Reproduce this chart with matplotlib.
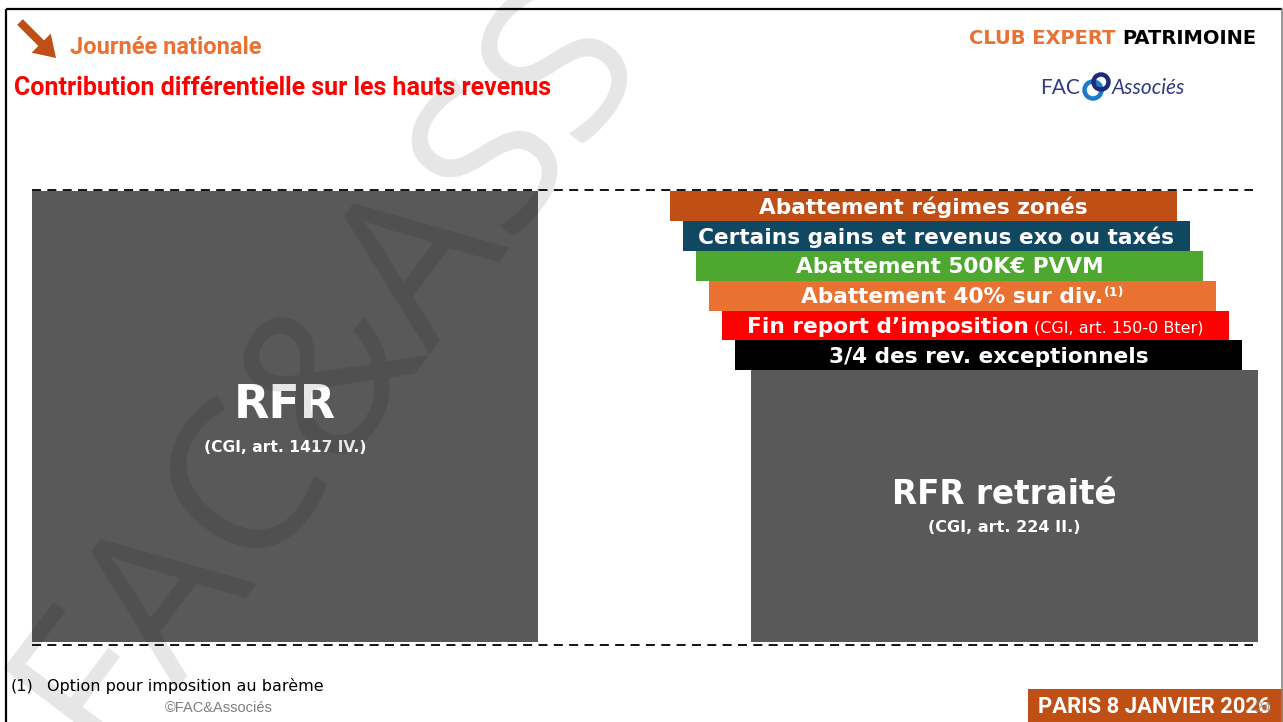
import matplotlib
matplotlib.use("Agg")
import matplotlib.pyplot as plt
from matplotlib.patches import FancyArrow, Circle
from matplotlib import font_manager as fm

# ---------------- data ----------------
rfr_label = "RFR"
rfr_ref = "(CGI, art. 1417 IV.)"
rfr_value = 100.0
retraite_label = "RFR retraité"
retraite_ref = "(CGI, art. 224 II.)"
retraite_value = 60.3
# stacked deductions, from bottom to top
deduction_labels = ["3/4 des rev. exceptionnels", "Fin report d’imposition",
                    "Abattement 40% sur div.", "Abattement 500K€ PVVM",
                    "Certains gains et revenus exo ou taxés", "Abattement régimes zonés"]
deduction_notes = ["", "(CGI, art. 150-0 Bter)", "(1)", "", "", ""]
deduction_values = [6.6, 6.6, 6.6, 6.6, 6.6, 6.7]
deduction_colors = ["#000000", "#FF0000", "#E97132", "#4EA72E", "#104862", "#C04F15"]

title_top = "Journée nationale"
title_main = "Contribution différentielle sur les hauts revenus"
club_a, club_b = "CLUB EXPERT ", "PATRIMOINE"
footnote_num = "(1)"
footnote_txt = "Option pour imposition au barème"
copyright_txt = "©FAC&Associés"
date_txt = "PARIS 8 JANVIER 2026"
page_txt = "24"
watermark_txt = "FAC&ASS"

# ---------------- fonts ----------------
available = {f.name for f in fm.fontManager.ttflist}
def pick(*names):
    for n in names:
        if n in available:
            return n
    return "DejaVu Sans"

F_BOLD = pick("DejaVu Sans")
F_NARROW = pick("Liberation Sans Narrow", "Roboto", "Liberation Sans")
F_ARIAL = pick("Liberation Sans", "DejaVu Sans")
F_LIGHT = pick("Lato", "Open Sans", "DejaVu Sans")
F_WM = pick("Open Sans", "Lato", "DejaVu Sans")

W, H, DPI = 1283, 722, 100
GREY = "#595959"
BROWN = "#C04F15"
ORANGE = "#E97132"
NAVY = "#2E3A87"

fig = plt.figure(figsize=(W / DPI, H / DPI), dpi=DPI)
fig.patch.set_facecolor("white")

ax = fig.add_axes([0, 0, 1, 1])
ax.set_xlim(0, W); ax.set_ylim(H, 0); ax.axis("off")

base_px, top_px = 642, 191
cx = fig.add_axes([0, (H - base_px) / H, 1, (base_px - top_px) / H])
cx.set_xlim(0, W); cx.set_ylim(0, rfr_value); cx.axis("off")
cx.patch.set_alpha(0)

ov = fig.add_axes([0, 0, 1, 1])
ov.set_xlim(0, W); ov.set_ylim(H, 0); ov.axis("off")
ov.patch.set_alpha(0)

def to_ov(x, v):
    return ov.transData.inverted().transform(cx.transData.transform((x, v)))

# ---------------- frame ----------------
ax.plot([5.5, 5.5], [8.5, H + 5], color="black", lw=1.6, solid_capstyle="butt")
ax.plot([5.5, 1281.5], [8.5, 8.5], color="black", lw=1.6, solid_capstyle="butt")
ax.plot([1281.5, 1281.5], [8.5, H + 5], color="#888888", lw=1.2)

# ---------------- header ----------------
ax.add_patch(FancyArrow(20, 22, 36, 36, width=8, head_width=27, head_length=21,
                        length_includes_head=True, color=BROWN, lw=0))
ax.text(70, 47, title_top, fontsize=17, fontweight="bold", color=ORANGE,
        family=F_NARROW, ha="left", va="center")
ax.text(14, 88, title_main, fontsize=18, fontweight="bold", color="#FF0000",
        family=F_NARROW, ha="left", va="center")

tb = ax.text(1256, 38, club_b, fontsize=14, fontweight="bold", color="black",
             family=F_BOLD, ha="right", va="center")
fig.canvas.draw()
bb = tb.get_window_extent()
ax.text(bb.x0, 38, club_a, fontsize=14, fontweight="bold", color=ORANGE,
        family=F_BOLD, ha="right", va="center")

# logo
ax.text(1080, 88, "FAC", fontsize=15, color=NAVY, family=F_LIGHT,
        ha="right", va="center")
ax.add_patch(Circle((1093, 90), 8.5, fill=False, ec="#1A7BC8", lw=3.2))
ax.add_patch(Circle((1101, 82), 7.5, fill=False, ec="#1F2A78", lw=3.2))
ax.text(1112, 88, "Associés", fontsize=15, color=NAVY, family=F_LIGHT,
        style="italic", ha="left", va="center")

# ---------------- bars ----------------
cx.bar(32, rfr_value, width=506, align="edge", color=GREY, zorder=2)
cx.bar(751, retraite_value, width=507, align="edge", color=GREY, zorder=2)

bottom = retraite_value
stack_left, step, bw = 735, 13, 507
label_info = []
for i, (lab, note, val, col) in enumerate(zip(deduction_labels, deduction_notes,
                                               deduction_values, deduction_colors)):
    left = stack_left - step * i
    cx.bar(left, val, width=bw, bottom=bottom, align="edge", color=col, zorder=3)
    label_info.append((left + bw / 2, bottom + val / 2, lab, note))
    bottom += val

# dashed guide lines
for y in (190, 645):
    ax.plot([32, 1253], [y, y], color="black", lw=1.3, ls=(0, (5, 3.5)), zorder=1)

# ---------------- labels ----------------
fig.canvas.draw()
r = fig.canvas.get_renderer()
LS = 15.6
for (xc, vm, lab, note) in label_info:
    px, py = to_ov(xc, vm)
    base = py + 7.5
    t1 = ov.text(0, base, lab, fontsize=LS, fontweight="bold", color="white",
                 family=F_BOLD, ha="left", va="baseline")
    w1 = t1.get_window_extent(r).width
    if note == "":
        t1.set_x(px - w1 / 2)
    elif note == "(1)":
        t2 = ov.text(0, base - 7, note, fontsize=9, fontweight="bold", color="white",
                     family=F_BOLD, ha="left", va="baseline")
        w2 = t2.get_window_extent(r).width
        tot = w1 + 1 + w2
        t1.set_x(px - tot / 2); t2.set_x(px - tot / 2 + w1 + 1)
    else:
        t2 = ov.text(0, base, note, fontsize=11.5, color="white",
                     family=F_BOLD, ha="left", va="baseline")
        w2 = t2.get_window_extent(r).width
        gap = 5
        tot = w1 + gap + w2
        t1.set_x(px - tot / 2); t2.set_x(px - tot / 2 + w1 + gap)

ov.text(285, 405, rfr_label, fontsize=33, fontweight="bold", color="white",
        family=F_BOLD, ha="center", va="center")
ov.text(285, 447, rfr_ref, fontsize=11.2, fontweight="bold", color="white",
        family=F_BOLD, ha="center", va="center")
ov.text(1004, 495, retraite_label, fontsize=23.5, fontweight="bold", color="white",
        family=F_BOLD, ha="center", va="center")
ov.text(1004, 527, retraite_ref, fontsize=11.5, fontweight="bold", color="white",
        family=F_BOLD, ha="center", va="center")

# ---------------- footer ----------------
ov.text(11, 686, footnote_num, fontsize=11.5, color="black", family=F_BOLD, ha="left", va="center")
ov.text(47, 686, footnote_txt, fontsize=11.5, color="black", family=F_BOLD, ha="left", va="center")
ov.text(165, 708, copyright_txt, fontsize=10.5, color="#7F7F7F", family=F_ARIAL, ha="left", va="center")

ax.add_patch(plt.Rectangle((1028, 689), 260, 40, color=BROWN, lw=0, zorder=1))
ov.text(1038, 707, date_txt, fontsize=15.8, fontweight="bold", color="white",
        family=F_NARROW, ha="left", va="center")
ov.text(1263, 708, page_txt, fontsize=11, color="#8C8C8C", family=F_ARIAL,
        ha="center", va="center", alpha=0.8)

# ---------------- watermark ----------------
ov.text(104, 760, watermark_txt, fontsize=152, color="black", alpha=0.10,
        family=F_WM, rotation=53, rotation_mode="anchor",
        ha="left", va="baseline", zorder=20)

fig.savefig("out.png", dpi=DPI, facecolor="white")
